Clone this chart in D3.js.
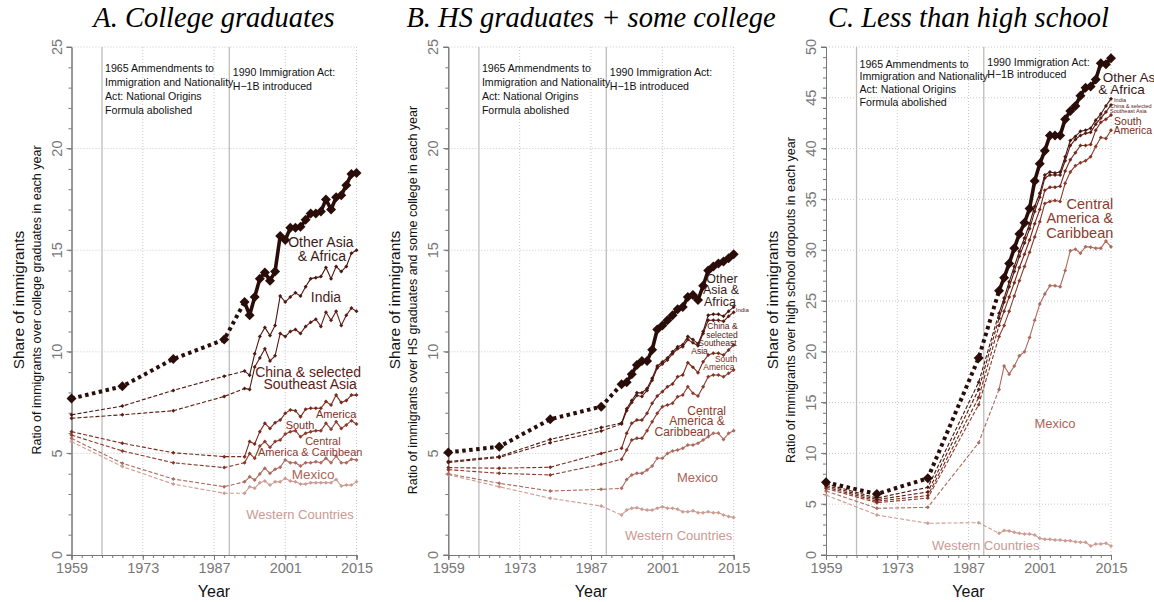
<!DOCTYPE html>
<html>
<head>
<meta charset="utf-8">
<script src="https://cdn.jsdelivr.net/npm/d3@7"></script>
<style>
  body { margin: 0; background: #fff; }
  svg text { font-family: "Liberation Sans", Arial, sans-serif; }
</style>
</head>
<body>
<svg id="chart" width="1154" height="602"></svg>
<script>

// years observed (census decades, then annual)
var years = [1959, 1969, 1979, 1989, 1993, 1994, 1995, 1996, 1997, 1998, 1999, 2000, 2001,
    2002, 2003, 2004, 2005, 2006, 2007, 2008, 2009, 2010, 2011, 2012, 2013, 2014, 2015];

var seriesNames = ["Other Asia & Africa", "India", "China & selected Southeast Asia",
    "South America", "Central America & Caribbean", "Mexico", "Western Countries"];

var xTicks = [1959, 1973, 1987, 2001, 2015];
var eventYears = [1965, 1990];

// A. College graduates
var collegeShares = [
    [7.7, 8.3, 9.65, 10.6, 12.45, 11.8, 12.7, 13.6, 13.9, 13.5, 13.95, 15.7, 15.5, 16.1, 16.1, 16.15, 16.5, 16.8, 16.8, 16.9, 17.5, 17.0, 17.6, 17.7, 18.2, 18.75, 18.8],
    [6.9, 7.33, 8.1, 8.8, 9.05, 8.85, 9.9, 10.75, 11.2, 10.8, 11.3, 12.75, 12.45, 12.7, 12.9, 12.75, 13.2, 13.6, 13.65, 13.7, 14.15, 13.6, 14.2, 13.95, 14.2, 14.85, 15.0],
    [6.73, 6.9, 7.1, 7.8, 8.2, 8.15, 9.25, 9.7, 10.15, 9.55, 9.8, 10.9, 10.75, 11.0, 11.1, 10.9, 11.25, 11.45, 11.6, 11.25, 11.95, 11.55, 12.0, 11.3, 11.8, 12.15, 12.0],
    [6.07, 5.5, 5.03, 4.84, 4.84, 5.58, 5.46, 6.07, 6.48, 6.23, 6.51, 6.64, 6.97, 7.14, 7.1, 6.8, 7.17, 7.22, 7.22, 7.22, 7.55, 7.38, 7.87, 7.5, 7.6, 7.87, 7.87],
    [5.9, 5.12, 4.54, 4.3, 4.54, 5.0, 4.76, 5.36, 5.58, 5.3, 5.58, 5.66, 5.95, 6.07, 6.12, 5.82, 5.99, 6.07, 6.12, 6.12, 6.48, 6.19, 6.56, 6.23, 6.4, 6.61, 6.45],
    [5.74, 4.51, 3.74, 3.36, 3.6, 3.85, 3.69, 3.99, 4.27, 4.02, 4.22, 4.32, 4.68, 4.54, 4.54, 4.38, 4.54, 4.54, 4.59, 4.54, 4.76, 4.54, 4.87, 4.54, 4.54, 4.71, 4.68],
    [5.58, 4.35, 3.49, 3.04, 3.04, 3.36, 3.28, 3.56, 3.64, 3.44, 3.6, 3.6, 3.77, 3.64, 3.6, 3.49, 3.49, 3.56, 3.56, 3.56, 3.56, 3.56, 3.72, 3.4, 3.44, 3.44, 3.6]
];

// B. HS graduates + some college
var hsShares = [
    [5.05, 5.33, 6.68, 7.3, 8.4, 8.5, 8.9, 9.35, 9.55, 9.55, 10.1, 11.1, 11.3, 11.55, 11.8, 12.1, 12.2, 12.7, 12.8, 12.55, 13.25, 14.0, 14.2, 14.35, 14.45, 14.6, 14.8],
    [4.6, 4.85, 5.69, 6.27, 6.5, 7.2, 7.6, 7.98, 7.98, 8.2, 8.7, 9.3, 9.5, 9.7, 10.0, 10.25, 10.35, 10.75, 10.6, 10.4, 11.0, 11.8, 11.85, 11.85, 11.75, 12.0, 12.2],
    [4.55, 4.8, 5.53, 6.1, 6.45, 7.1, 7.5, 7.85, 7.8, 8.1, 8.6, 9.2, 9.4, 9.6, 9.9, 10.15, 10.25, 10.6, 10.45, 10.3, 10.9, 11.55, 11.55, 11.55, 11.5, 11.75, 11.95],
    [4.3, 4.27, 4.32, 5.0, 5.25, 5.99, 6.48, 6.64, 6.64, 6.97, 7.47, 7.82, 8.04, 8.28, 8.42, 8.77, 8.86, 9.46, 9.24, 8.97, 9.51, 9.84, 9.93, 9.93, 9.84, 10.09, 10.33],
    [4.2, 4.02, 3.94, 4.46, 4.71, 5.17, 5.66, 5.74, 5.74, 6.12, 6.56, 6.97, 7.3, 7.38, 7.47, 7.79, 7.87, 8.28, 7.96, 7.82, 8.28, 8.77, 8.86, 8.86, 8.77, 8.94, 9.1],
    [4.0, 3.53, 3.15, 3.23, 3.28, 3.72, 3.94, 4.02, 4.02, 4.18, 4.38, 4.76, 4.76, 5.0, 5.12, 5.17, 5.25, 5.41, 5.41, 5.5, 5.66, 5.82, 5.99, 5.99, 5.69, 5.99, 6.12],
    [3.95, 3.36, 2.79, 2.41, 1.97, 2.21, 2.3, 2.33, 2.25, 2.21, 2.21, 2.3, 2.38, 2.3, 2.3, 2.25, 2.13, 2.13, 2.18, 2.08, 2.08, 2.13, 2.08, 2.08, 1.97, 1.89, 1.85]
];

// C. Less than high school
var dropoutShares = [
    [7.15, 6.0, 7.55, 19.4, 26.0, 27.3, 28.7, 30.2, 31.6, 32.7, 34.1, 36.8, 38.5, 39.8, 41.3, 41.3, 41.3, 42.9, 43.7, 44.2, 45.2, 46.0, 46.1, 46.8, 48.4, 48.3, 48.9],
    [7.0, 5.6, 6.66, 17.0, 23.8, 25.3, 26.9, 28.4, 29.9, 31.2, 32.6, 34.3, 35.6, 37.4, 37.7, 37.6, 37.7, 39.2, 40.8, 41.2, 41.7, 41.8, 42.0, 42.8, 43.4, 44.2, 44.9],
    [6.85, 5.45, 6.2, 16.3, 23.3, 24.9, 26.4, 27.9, 29.4, 30.7, 32.1, 33.8, 35.2, 37.1, 37.4, 37.4, 37.4, 38.8, 40.3, 40.9, 41.3, 41.5, 41.6, 42.4, 43.0, 43.6, 44.3],
    [6.7, 5.3, 5.85, 15.5, 22.6, 24.0, 25.4, 26.8, 28.3, 29.6, 31.0, 32.6, 34.0, 35.9, 36.2, 36.2, 36.3, 37.8, 38.9, 39.6, 40.3, 40.3, 40.4, 41.8, 42.6, 42.9, 43.3],
    [6.55, 5.15, 5.6, 14.8, 21.5, 22.6, 24.0, 25.5, 27.0, 28.4, 29.8, 31.3, 32.8, 34.6, 34.8, 34.9, 34.8, 36.6, 37.7, 38.3, 38.6, 38.8, 39.2, 40.2, 41.1, 41.0, 41.8],
    [6.3, 4.6, 4.69, 11.05, 16.3, 18.6, 17.8, 18.6, 19.6, 20.0, 21.4, 23.1, 24.7, 25.7, 26.5, 26.5, 26.4, 28.0, 29.95, 30.1, 29.7, 30.35, 30.3, 30.2, 30.2, 30.9, 30.35],
    [5.9, 3.94, 3.12, 3.18, 2.13, 2.4, 2.37, 2.23, 2.13, 2.07, 2.07, 1.97, 1.64, 1.54, 1.54, 1.48, 1.48, 1.41, 1.41, 1.31, 1.25, 1.25, 0.89, 1.08, 1.08, 1.15, 0.89]
];

var lineColors = ["#2a0d09", "#4c1710", "#5a1c12", "#7a2a1d", "#8b3a2b", "#ad6a5e", "#cc9c93"];
var labelColors = ["#3a1a16", "#4e1c16", "#5c2018", "#7a2c20", "#8c3b2d", "#a9665a", "#c89a92"];

// text labels: [text, year, value, size, series, anchor]
var collegeLabels = [
    ["Other Asia", 2008.0, 15.16, 14, 0, "middle"],
    ["& Africa", 2008.2, 14.49, 14, 0, "middle"],
    ["India", 2009.0, 12.45, 14, 1, "middle"],
    ["China & selected", 2005.5, 8.76, 14, 2, "middle"],
    ["Southeast Asia", 2005.9, 8.17, 14, 2, "middle"],
    ["America", 2011.0, 6.74, 11, 3, "middle"],
    ["South", 2003.9, 6.18, 11, 3, "middle"],
    ["Central", 2008.4, 5.41, 11, 4, "middle"],
    ["America & Caribbean", 2005.9, 4.87, 11, 4, "middle"],
    ["Mexico", 2006.5, 3.74, 13.5, 5, "middle"],
    ["Western Countries", 2003.9, 1.75, 13, 6, "middle"]
];
var hsLabels = [
    ["Other", 2012.7, 13.4, 12.5, 0, "middle"],
    ["Asia &", 2012.5, 12.82, 12.5, 0, "middle"],
    ["Africa", 2012.3, 12.24, 12.5, 0, "middle"],
    ["India", 2015.4, 11.95, 6, 1, "start"],
    ["China &", 2012.8, 11.12, 8.5, 2, "middle"],
    ["selected", 2012.7, 10.7, 8.5, 2, "middle"],
    ["Southeast", 2011.8, 10.28, 8.5, 2, "middle"],
    ["Asia", 2008.3, 9.9, 8.5, 2, "middle"],
    ["South", 2013.5, 9.51, 8.5, 3, "middle"],
    ["America", 2012.1, 9.08, 8.5, 3, "middle"],
    ["Central", 2009.7, 6.89, 12, 4, "middle"],
    ["America &", 2007.8, 6.38, 12, 4, "middle"],
    ["Caribbean", 2004.9, 5.85, 12, 4, "middle"],
    ["Mexico", 2007.9, 3.58, 13, 5, "middle"],
    ["Western Countries", 2004.2, 0.74, 13, 6, "middle"]
];
var dropoutLabels = [
    ["Other Asia", 2013.4, 46.58, 13.5, 0, "start"],
    ["& Africa", 2012.5, 45.4, 13.5, 0, "start"],
    ["India", 2015.6, 44.56, 5.5, 1, "start"],
    ["China & selected", 2014.8, 44.03, 5.5, 2, "start"],
    ["Southeast Asia", 2014.8, 43.53, 5.5, 2, "start"],
    ["South", 2015.6, 42.35, 10.5, 3, "start"],
    ["America", 2015.5, 41.4, 10.5, 3, "start"],
    ["Central", 2015.45, 34.05, 14.5, 4, "end"],
    ["America &", 2015.45, 32.65, 14.5, 4, "end"],
    ["Caribbean", 2015.45, 31.25, 14.5, 4, "end"],
    ["Mexico", 2004.0, 12.47, 13, 5, "middle"],
    ["Western Countries", 1990.4, 0.49, 13, 6, "middle"]
];

var note1965 = ["1965 Ammendments to", "Immigration and Nationality", "Act: National Origins", "Formula abolished"];
var note1990 = ["1990 Immigration Act:", "H\u22121B introduced"];

var panels = [
    { title: "A. College graduates", left: 71.5, right: 356.5, ymax: 25,
      ratio: "Ratio of immigrants over college graduates in each year",
      shares: collegeShares, labels: collegeLabels, n65: 72, n90: 75.5, step: 14 },
    { title: "B. HS graduates + some college", left: 448.3, right: 733.7, ymax: 25,
      ratio: "Ratio of immigrants over HS graduates and some college in each year",
      shares: hsShares, labels: hsLabels, n65: 72, n90: 75.5, step: 14 },
    { title: "C. Less than high school", left: 826, right: 1111, ymax: 50,
      ratio: "Ratio of immigrants over high school dropouts in each year",
      shares: dropoutShares, labels: dropoutLabels, n65: 67.5, n90: 65.5, step: 12.8 }
];

var plotTop = 47, plotBottom = 555;
var svg = d3.select("#chart");

function diamond(cx, cy, r) {
    return "M" + cx + "," + (cy - r) + "L" + (cx + r) + "," + cy +
        "L" + cx + "," + (cy + r) + "L" + (cx - r) + "," + cy + "Z";
}

panels.forEach(function(p) {
    var x = d3.scaleLinear().domain([1959, 2015]).range([p.left, p.right]);
    var y = d3.scaleLinear().domain([0, p.ymax]).range([plotBottom, plotTop]);
    var g = svg.append("g");
    var mid = (p.left + p.right) / 2;

    // title
    g.append("text")
        .attr("x", mid).attr("y", 27)
        .attr("text-anchor", "middle")
        .style("font-family", "'Liberation Serif', serif")
        .style("font-style", "italic")
        .style("font-size", "28.5px")
        .text(p.title);

    // grid
    var yMajor = d3.range(5, p.ymax + 1, 5);
    g.selectAll(".hgrid").data(yMajor).enter().append("line")
        .attr("x1", p.left).attr("x2", p.right)
        .attr("y1", function(d) { return y(d); }).attr("y2", function(d) { return y(d); })
        .attr("stroke", "#c8c8c8").attr("stroke-width", 1).attr("stroke-dasharray", "1,2");
    g.selectAll(".vgrid").data(xTicks.slice(1)).enter().append("line")
        .attr("x1", function(d) { return x(d); }).attr("x2", function(d) { return x(d); })
        .attr("y1", plotTop).attr("y2", plotBottom)
        .attr("stroke", "#c8c8c8").attr("stroke-width", 1).attr("stroke-dasharray", "1,2");

    // policy lines
    g.selectAll(".event").data(eventYears).enter().append("line")
        .attr("x1", function(d) { return x(d); }).attr("x2", function(d) { return x(d); })
        .attr("y1", plotTop).attr("y2", plotBottom)
        .attr("stroke", "#bdbdbd").attr("stroke-width", 1.3);

    // notes
    var t65 = g.append("text").attr("font-size", 10.6).attr("fill", "#111");
    note1965.forEach(function(s, i) {
        t65.append("tspan").attr("x", x(1965) + 3).attr("y", p.n65 + i * p.step).text(s);
    });
    var t90 = g.append("text").attr("font-size", 10.6).attr("fill", "#111");
    note1990.forEach(function(s, i) {
        t90.append("tspan").attr("x", x(1990) + 3.5).attr("y", p.n90 + i * p.step).text(s);
    });

    // axes
    var yAxis = d3.axisLeft(y).tickValues(d3.range(0, p.ymax + 1, 5)).tickSize(5).tickPadding(9);
    var yMinor = d3.axisLeft(y).tickValues(d3.range(0, p.ymax + 1, 1)).tickSize(3).tickFormat("");
    var xAxis = d3.axisBottom(x).tickValues(xTicks).tickSize(5).tickPadding(3).tickFormat(d3.format("d"));
    var xMinor = d3.axisBottom(x).tickValues(d3.range(1959, 2016, 2)).tickSize(3).tickFormat("");

    var ya = g.append("g").attr("transform", "translate(" + p.left + ",0)").call(yAxis);
    g.append("g").attr("transform", "translate(" + p.left + ",0)").call(yMinor);
    var xa = g.append("g").attr("transform", "translate(0," + plotBottom + ")").call(xAxis);
    g.append("g").attr("transform", "translate(0," + plotBottom + ")").call(xMinor);

    g.selectAll(".domain").attr("stroke", "#777");
    g.selectAll(".tick line").attr("stroke", "#777");
    ya.selectAll(".tick").attr("transform", null);
    ya.selectAll("text")
        .attr("fill", "#777").style("font-size", "14.5px")
        .attr("transform", function(d) { return "rotate(-90," + (-15) + "," + y(d) + ")"; })
        .attr("x", -15).attr("y", function(d) { return y(d); })
        .attr("dy", "0.35em").attr("text-anchor", "middle");
    ya.selectAll(".tick line")
        .attr("y1", function(d) { return y(d); }).attr("y2", function(d) { return y(d); });
    xa.selectAll("text").attr("fill", "#777").style("font-size", "14.5px");

    g.append("text")
        .attr("x", mid).attr("y", 597)
        .attr("text-anchor", "middle").attr("font-size", 16).attr("fill", "#111")
        .text("Year");

    g.append("text")
        .attr("transform", "translate(" + (p.left - 48) + ",300) rotate(-90)")
        .attr("text-anchor", "middle").attr("font-size", 15.5).attr("fill", "#111")
        .text("Share of immigrants");
    g.append("text")
        .attr("transform", "translate(" + (p.left - 31) + ",300) rotate(-90)")
        .attr("text-anchor", "middle").attr("font-size", 12.5).attr("fill", "#111")
        .text(p.ratio);

    // series, back to front
    var line = d3.line()
        .x(function(d) { return x(d[0]); })
        .y(function(d) { return y(d[1]); });

    for (var s = seriesNames.length - 1; s >= 0; s--) {
        var pts = years.map(function(yr, i) { return [yr, p.shares[s][i]]; });
        var early = pts.slice(0, 5), late = pts.slice(4);
        var big = s === 0;
        var sg = g.append("g").attr("class", "series");

        sg.append("path").datum(early)
            .attr("d", line).attr("fill", "none")
            .attr("stroke", lineColors[s])
            .attr("stroke-width", big ? 4 : 1.1)
            .attr("stroke-dasharray", big ? "3.5,3.5" : "4,2");
        sg.append("path").datum(late)
            .attr("d", line).attr("fill", "none")
            .attr("stroke", lineColors[s])
            .attr("stroke-width", big ? 3.6 : 1.1)
            .attr("stroke-linejoin", "round");
        sg.selectAll(".pt").data(pts).enter().append("path")
            .attr("d", function(d) { return diamond(x(d[0]), y(d[1]), big ? 5 : 2); })
            .attr("fill", lineColors[s]);
    }

    // series labels
    g.selectAll(".lab").data(p.labels).enter().append("text")
        .attr("x", function(d) { return x(d[1]); })
        .attr("y", function(d) { return y(d[2]); })
        .attr("text-anchor", function(d) { return d[5]; })
        .attr("font-size", function(d) { return d[3]; })
        .attr("fill", function(d) { return labelColors[d[4]]; })
        .text(function(d) { return d[0]; });
});

</script>
</body>
</html>
